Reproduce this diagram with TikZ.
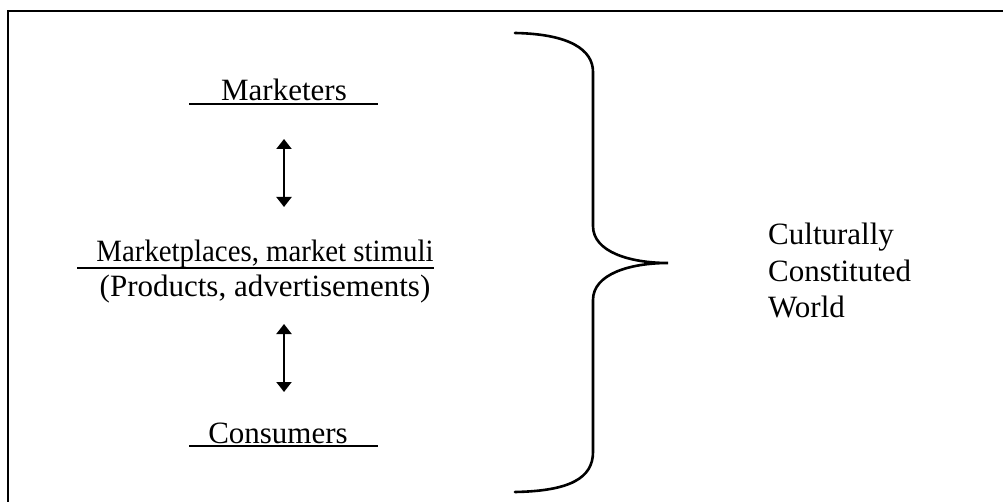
\documentclass[tikz,border=0pt]{standalone}
\usepackage{fontspec}
\setmainfont{Liberation Serif}
\usetikzlibrary{arrows.meta}
\tikzset{
  lbl/.style={inner sep=0pt, font=\fontsize{31}{36}\selectfont},
  rule/.style={line width=2pt},
  frameline/.style={line width=2pt},
  dbl/.style={line width=2pt, {Triangle[width=15pt,length=10pt]}-{Triangle[width=15pt,length=10pt]}},
  bracestyle/.style={line width=2.6pt, line cap=round}
}
\begin{document}
\begin{tikzpicture}[x=1pt,y=-1pt]
  \useasboundingbox (0,0) rectangle (1003,502);
  % frame (top and left edges)
  \draw[frameline] (8,502) -- (8,11) -- (1003,11);

  % left column labels
  \node[lbl, anchor=base] (mk) at (284,101) {Marketers};
  \node[lbl, anchor=base] (mp) at (265,262) {\scalebox{0.93}[1]{Marketplaces, market stimuli}};
  \node[lbl, anchor=base] (pr) at (265,297) {(Products, advertisements)};
  \node[lbl, anchor=base] (cs) at (278,443) {Consumers};

  % underlines
  \coordinate (mkL) at (189,104); \coordinate (mkR) at (378,104);
  \coordinate (mpL) at (77,268);  \coordinate (mpR) at (434,268);
  \coordinate (csL) at (189,446); \coordinate (csR) at (378,446);
  \draw[rule] (mkL) -- (mkR);
  \draw[rule] (mpL) -- (mpR);
  \draw[rule] (csL) -- (csR);

  % two-way arrows
  \coordinate (a1t) at (284,139); \coordinate (a1b) at (284,207);
  \coordinate (a2t) at (284,324); \coordinate (a2b) at (284,392);
  \draw[dbl] (a1t) -- (a1b);
  \draw[dbl] (a2t) -- (a2b);

  % curly brace
  \coordinate (bTop) at (515,33);
  \coordinate (bTip) at (668,263);
  \coordinate (bBot) at (515,492);
  \draw[bracestyle] (bTop) .. controls (570,34) and (593,50) .. (593,72)
    -- (593,226) .. controls (593,252) and (630,263) .. (bTip)
    .. controls (630,263) and (593,274) .. (593,300)
    -- (593,452) .. controls (593,478) and (570,491) .. (bBot);

  % right label
  \node[lbl, anchor=base west] (cw1) at (768,245) {Culturally};
  \node[lbl, anchor=base west] (cw2) at (768,282) {Constituted};
  \node[lbl, anchor=base west] (cw3) at (768,317) {World};
\end{tikzpicture}
\end{document}
